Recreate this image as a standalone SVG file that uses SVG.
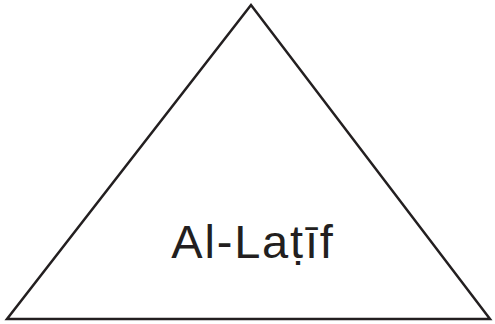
<svg xmlns="http://www.w3.org/2000/svg" width="495" height="324" viewBox="0 0 495 324">
<style>
.shape{fill:#fff;stroke:#231f20;stroke-width:2.5;stroke-linejoin:miter}
.label{font-family:"Liberation Sans",Arial,sans-serif;font-size:47px;letter-spacing:1.8px;fill:#231f20;text-anchor:middle}
</style>
<rect width="495" height="324" fill="#fff"/>
<g id="connectors"></g>
<g id="node-triangle">
<polygon class="shape" points="251,5 7,319 490,319"/>
<text class="label" x="253" y="258">Al-Laṭīf</text>
</g>
</svg>
